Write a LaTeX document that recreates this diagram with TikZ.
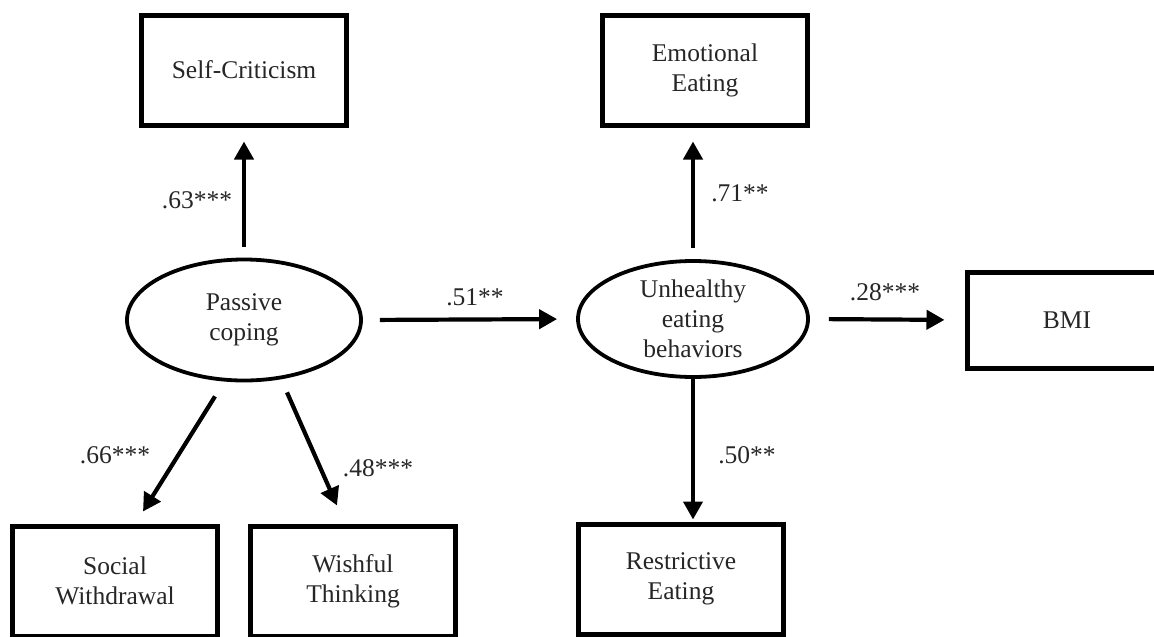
\documentclass[tikz,border=0pt]{standalone}
\usepackage{fontspec}
\setmainfont{Liberation Serif}
\usepackage{tikz}
\usetikzlibrary{positioning, arrows.meta, calc, shapes.geometric}

\begin{document}
\begin{tikzpicture}[
      x=1pt, y=-1pt,
      every node/.style={font=\fontsize{25.5}{30}\selectfont, text=black!85},
      obs/.style={draw, line width=5pt, minimum width=205pt, minimum height=110pt, align=center, inner sep=0pt},
      lat/.style={draw, ellipse, line width=3.8pt, minimum width=234pt, minimum height=121pt, align=center, inner sep=0pt},
      coef/.style={inner sep=0pt},
      arr/.style={-{Triangle[length=18pt, width=19pt]}, line width=4.2pt},
  ]
    \useasboundingbox (0,0) rectangle (1154,637);

    % latent variables
    \node[lat] (passive) at (244,320) {Passive\\coping};
    \node[lat, minimum width=230pt, minimum height=116pt] (unhealthy) at (693,319) {Unhealthy\\eating\\behaviors};

    % indicators
    \node[obs] (selfcrit) at (244,70) {Self-Criticism};
    \node[obs] (social) at (115,581) {Social\\Withdrawal};
    \node[obs] (wishful) at (353,581) {Wishful\\Thinking};
    \node[obs] (emotional) at (705,70) {Emotional\\Eating};
    \node[obs] (restrictive) at (681,579) {Restrictive\\Eating};
    \node[obs, minimum width=200pt, minimum height=96pt] (bmi) at (1067,320) {BMI};

    % paths
    \draw[arr, shorten <=11pt, shorten >=14pt] (passive.north) -- (passive.north |- selfcrit.south);
    \draw[arr] ($(passive.south)+(-29,14)$) -- ($(social.north)+(28,-12)$);
    \draw[arr] ($(passive.south)+(43,10)$) -- ($(wishful.north)+(-16,-18)$);
    \draw[arr, shorten <=17pt, shorten >=19pt] (passive.east) -- (unhealthy.west);
    \draw[arr, shorten <=11pt, shorten >=14pt] (unhealthy.north) -- (unhealthy.north |- emotional.south);
    \draw[arr, shorten <=0pt, shorten >=2pt] (unhealthy.south) -- (unhealthy.south |- restrictive.north);
    \draw[arr, shorten <=19pt, shorten >=20pt] (unhealthy.east) -- (bmi.west);

    % coefficients
    \node[coef] (c63) at (197,200) {.63***};
    \node[coef] (c66) at (115,455) {.66***};
    \node[coef] (c48) at (378,468) {.48***};
    \node[coef] (c51) at (475,297) {.51**};
    \node[coef] (c71) at (740,193) {.71**};
    \node[coef] (c50) at (747,455) {.50**};
    \node[coef] (c28) at (885,292) {.28***};
  \end{tikzpicture}
\end{document}
